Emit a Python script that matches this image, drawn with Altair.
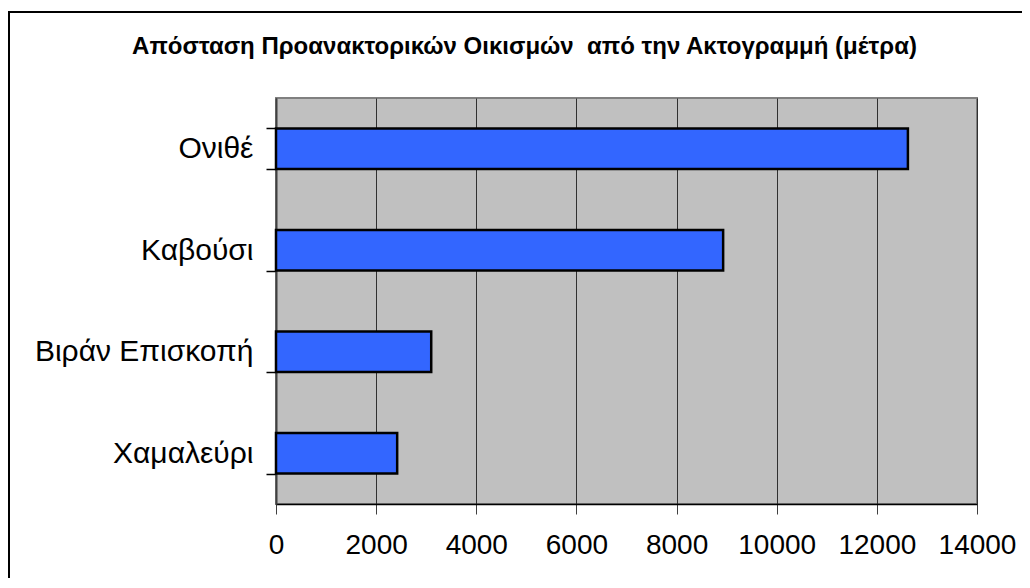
import altair as alt
import pandas as pd

categories = ["Ονιθέ", "Καβούσι", "Βιράν Επισκοπή", "Χαμαλεύρι"]
distances = [12620, 8930, 3100, 2420]
x_ticks = [0, 2000, 4000, 6000, 8000, 10000, 12000, 14000]
title_text = "Απόσταση Προανακτορικών Οικισμών\u00a0 από την Ακτογραμμή (μέτρα)"

df = pd.DataFrame({"place": categories, "dist": distances})

FONT = "Liberation Sans"

bars = alt.Chart(df).mark_bar(
    color="#3366FF", stroke="black", strokeWidth=2.5
).encode(
    x=alt.X("dist:Q",
            scale=alt.Scale(domain=[0, 14000], nice=False, zero=True),
            axis=alt.Axis(values=x_ticks, title=None, grid=True, format="d",
                          gridColor="#303030", gridWidth=1,
                          domainColor="black", domainWidth=1.5,
                          tickColor="#404040", tickSize=10, tickWidth=1,
                          labelFont=FONT, labelFontSize=28, labelColor="black",
                          labelPadding=17, labelBaseline="top",
                          labelFlush=False, labelOverlap=False)),
    y=alt.Y("place:N", sort=categories,
            scale=alt.Scale(paddingInner=0.6, paddingOuter=0.3),
            axis=alt.Axis(title=None, tickBand="extent",
                          domainColor="#404040", domainWidth=2,
                          tickColor="black", tickSize=10, tickWidth=1.5,
                          labelFont=FONT, labelFontSize=30, labelColor="black",
                          labelPadding=13, labelLimit=400)),
)

frame = alt.Chart(df).mark_rect(
    fill=None, stroke="black", strokeWidth=2, clip=False
).encode(
    x=alt.value(-267), x2=alt.value(760),
    y=alt.value(-86), y2=alt.value(500),
)

chart = alt.layer(frame, bars).properties(
    width=701, height=406,
    title=alt.TitleParams(title_text, font=FONT, fontSize=24, fontWeight="bold",
                          color="black", anchor="middle", dx=-102, dy=48,
                          offset=0),
    autosize=alt.AutoSizeParams(type="none"),
    padding={"left": 268, "top": 90, "right": 45, "bottom": 74},
    background="white",
).configure_view(
    fill="#C0C0C0", stroke="#808080", strokeWidth=2
)

chart.save("out.html", embed_options={"renderer": "svg", "actions": False})
